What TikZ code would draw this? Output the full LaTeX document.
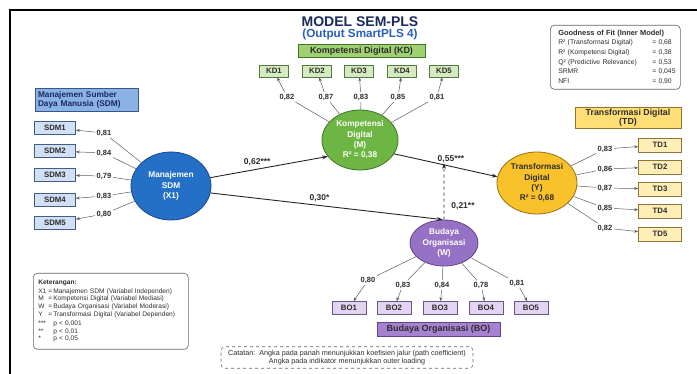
\documentclass[tikz,border=0pt]{standalone}
\usepackage{fontspec}
\setmainfont{Liberation Sans}
\usetikzlibrary{shapes.geometric,arrows.meta,calc}
\definecolor{navy}{RGB}{28,42,95}
\definecolor{subblue}{RGB}{40,95,185}
\definecolor{sdmc}{RGB}{36,112,198}
\definecolor{sdmd}{RGB}{25,70,140}
\definecolor{sdmh}{RGB}{138,178,228}
\definecolor{sdml}{RGB}{208,224,245}
\definecolor{kdc}{RGB}{110,182,68}
\definecolor{kdd}{RGB}{62,118,40}
\definecolor{kdh}{RGB}{160,208,112}
\definecolor{kdl}{RGB}{214,234,194}
\definecolor{tdc}{RGB}{249,194,42}
\definecolor{tdd}{RGB}{150,112,25}
\definecolor{tdh}{RGB}{255,222,118}
\definecolor{tdl}{RGB}{255,238,182}
\definecolor{boc}{RGB}{150,114,196}
\definecolor{bod}{RGB}{98,68,140}
\definecolor{boh}{RGB}{168,130,210}
\definecolor{bol}{RGB}{226,212,242}
\definecolor{txtd}{RGB}{45,45,45}
\definecolor{lng}{RGB}{95,95,95}
\begin{document}
\begin{tikzpicture}[x=1pt,y=-1pt,
  indbox/.style={draw, rectangle, inner sep=0pt, minimum height=13pt, line width=0.6pt,
    font=\fontsize{7.8}{9}\selectfont\bfseries, text=txtd},
  sdmind/.style={indbox, fill=sdml, draw=sdmd!60!gray, minimum width=41pt},
  kdind/.style={indbox, fill=kdl, draw=kdd!70!gray, minimum width=29pt, minimum height=12pt},
  tdind/.style={indbox, fill=tdl, draw=tdd!70!gray, minimum width=43pt, minimum height=14pt},
  boind/.style={indbox, fill=bol, draw=bod!70!gray, minimum width=34pt},
  lat/.style={ellipse, draw, line width=0.8pt, inner sep=0pt, align=center,
    font=\fontsize{8.3}{10.3}\selectfont\bfseries},
  hdr/.style={draw, rectangle, line width=0.6pt, inner sep=0pt,
    font=\fontsize{9}{10.5}\selectfont\bfseries, text=txtd},
  ld/.style={inner sep=1.5pt, font=\fontsize{7.5}{8.5}\selectfont\bfseries, text=txtd},
  pc/.style={inner sep=1pt, font=\fontsize{8.5}{10}\selectfont\bfseries, text=txtd},
  ln/.style={draw=lng, line width=0.5pt},
  ar/.style={ln, -{Stealth[length=4pt,width=3pt]}},
  pa/.style={draw=black!85, line width=0.9pt, -{Stealth[length=5.5pt,width=4pt]}},
  infobox/.style={draw=black!60, line width=0.6pt, rounded corners=4pt, text=txtd}
]
\useasboundingbox (0,0) rectangle (697,374);
\fill[white] (0,0) rectangle (697,374);
\draw[line width=1.5pt] (10,374) -- (10,10) -- (697,10);

% titles
\node[font=\fontsize{14}{16}\selectfont\bfseries, text=navy] (title) at (360,22) {MODEL SEM-PLS};
\node[font=\fontsize{11.7}{13}\selectfont\bfseries, text=subblue] (sub) at (360,34.5) {(Output SmartPLS 4)};

% latent variables
\node[lat, fill=sdmc, draw=sdmd, text=white, minimum width=80pt, minimum height=68pt] (sdm) at (171,186) {Manajemen\\SDM\\(X1)};
\node[lat, fill=kdc, draw=kdd, text=white, minimum width=76pt, minimum height=60pt] (kd) at (360,140) {Kompetensi\\Digital\\(M)\\R² = 0,38};
\node[lat, fill=tdc, draw=tdd, text=txtd, minimum width=80pt, minimum height=62pt] (td) at (537,183) {Transformasi\\Digital\\(Y)\\R² = 0,68};
\node[lat, fill=boc, draw=bod, text=white, minimum width=68pt, minimum height=46pt] (bo) at (444,243) {Budaya\\Organisasi\\(W)};

% headers
\node[hdr, fill=sdmh, draw=sdmd!70!gray, minimum width=103pt, minimum height=23pt, align=left, text=navy, text width=97pt,
  font=\fontsize{8.3}{9}\selectfont\bfseries] (hsdm) at (86.5,100) {Manajemen Sumber\\Daya Manusia (SDM)};
\node[hdr, fill=kdh, draw=kdd, minimum width=127pt, minimum height=12.5pt] (hkd) at (361.5,51) {Kompetensi Digital (KD)};
\node[hdr, fill=tdh, draw=tdd!80!gray, minimum width=106pt, minimum height=21pt, align=center,
  font=\fontsize{8.8}{9.4}\selectfont\bfseries] (htd) at (628,117.5) {Transformasi Digital\\(TD)};
\node[hdr, fill=boh, draw=bod, minimum width=123pt, minimum height=14pt] (hbo) at (438.5,329.5) {Budaya Organisasi (BO)};

% SDM indicators
\foreach \i/\by/\ly/\v in {1/128/133/{0,81},2/151/153/{0,84},3/175/176/{0,79},4/200/196/{0,83},5/223/214/{0,80}}{
  \node[sdmind] (sdm\i) at (55,\by) {SDM\i};
  \node[ld] (lsdm\i) at (104,\ly) {\v};
  \draw[ln] (sdm) -- (lsdm\i);
  \draw[ar] (lsdm\i) -- (sdm\i);
}
% KD indicators
\foreach \i/\bx/\lx/\v in {1/274/287/{0,82},2/317/326/{0,87},3/359/361/{0,83},4/402/398/{0,85},5/444/437/{0,81}}{
  \node[kdind] (kd\i) at (\bx,71) {KD\i};
  \node[ld] (lkd\i) at (\lx,97) {\v};
  \draw[ln] (kd) -- (lkd\i);
  \draw[ar] (lkd\i) -- (kd\i);
}
% TD indicators
\foreach \i/\by/\ly/\v in {1/145/149/{0,83},2/167/169/{0,86},3/189/188/{0,87},4/211/208/{0,85},5/234/228/{0,82}}{
  \node[tdind] (td\i) at (660,\by) {TD\i};
  \node[ld] (ltd\i) at (605,\ly) {\v};
  \draw[ln] (td) -- (ltd\i);
  \draw[ar] (ltd\i) -- (td\i);
}
% BO indicators
\foreach \i/\bx/\lx/\ly/\v in {1/349/368/280/{0,80},2/394/403/285/{0,83},3/440/442/285/{0,84},4/486/481/285/{0,78},5/531/517/283/{0,81}}{
  \node[boind] (bo\i) at (\bx,308) {BO\i};
  \node[ld] (lbo\i) at (\lx,\ly) {\v};
  \draw[ln] (bo) -- (lbo\i);
  \draw[ar] (lbo\i) -- (bo\i);
}

% structural paths
\draw[pa] (sdm.12) -- (kd.207) node[pc, pos=0.4, above=2pt] (p1) {0,62***};
\draw[pa] (sdm.-10) -- ([xshift=-1.5pt]bo.north) node[pc, pos=0.47, above=2pt] (p2) {0,30*};
\draw[pa] (kd.-22) -- (td.171) node[pc, pos=0.55, above=2pt] (p3) {0,55***};
\coordinate (mod) at (intersection of kd.-22--td.171 and bo.north--bo.center);
\draw[pa, dashed, line width=0.8pt] (bo.north) -- ([yshift=1.5pt]mod);
\node[pc] (p4) at (463,206) {0,21**};

% goodness of fit
\node[infobox, minimum width=130pt, minimum height=64pt, anchor=north west, inner xsep=8pt, inner ysep=0pt,
  text width=114pt, font=\fontsize{6.8}{9.6}\selectfont] (gof) at (550,25) {%
  \begin{tabular}{@{}p{94pt}@{}l@{}}
  \multicolumn{2}{@{}l@{}}{\fontsize{7.4}{9.6}\selectfont\bfseries Goodness of Fit (Inner Model)}\\
  R² (Transformasi Digital) & = 0,68\\
  R² (Kompetensi Digital) & = 0,38\\
  Q² (Predictive Relevance) & = 0,53\\
  SRMR & = 0,045\\
  NFI & = 0,90
  \end{tabular}};

% legend
\node[infobox, minimum width=155pt, minimum height=76pt, anchor=north west, inner xsep=5pt, inner ysep=0pt,
  text width=145pt, font=\fontsize{6.6}{7.8}\selectfont] (leg) at (33,273) {%
  \begin{tabular}{@{}p{10pt}@{}p{5pt}@{}l@{}}
  \multicolumn{3}{@{}l@{}}{\bfseries Keterangan:}\\[0.5pt]
  X1 & = & Manajemen SDM (Variabel Independen)\\
  M & = & Kompetensi Digital (Variabel Mediasi)\\
  W & = & Budaya Organisasi (Variabel Moderasi)\\
  Y & = & Transformasi Digital (Variabel Dependen)\\[1pt]
  \relax{***} & & p < 0,001\\
  \relax{**} & & p < 0,01\\
  \relax{*} & & p < 0,05
  \end{tabular}};

% note
\node[infobox, dashed, minimum width=252pt, minimum height=21pt, align=center,
  font=\fontsize{7.2}{8.2}\selectfont] (note) at (347,357.5)
  {Catatan:\ \ Angka pada panah menunjukkan koefisien jalur (path coefficient)\\Angka pada indikator menunjukkan outer loading};
\end{tikzpicture}
\end{document}
